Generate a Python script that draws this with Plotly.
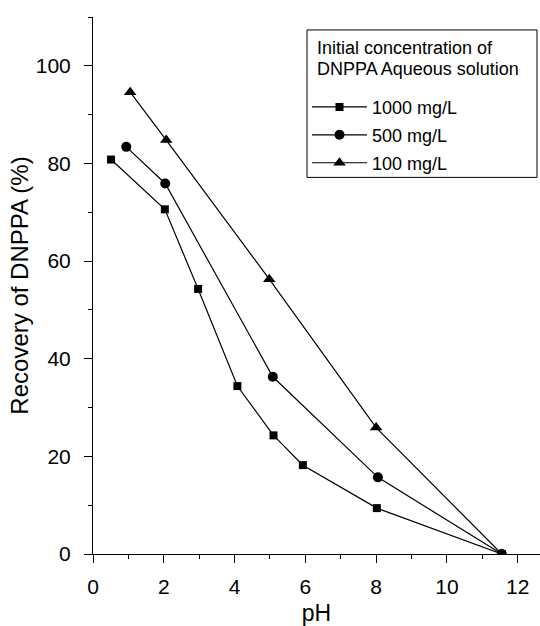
import plotly.graph_objects as go

ph_1000 = [0.51, 2.03, 2.97, 4.08, 5.10, 5.93, 8.02, 11.55]
rec_1000 = [80.8, 70.6, 54.3, 34.4, 24.3, 18.2, 9.4, 0.0]

ph_500 = [0.94, 2.04, 5.08, 8.05, 11.55]
rec_500 = [83.4, 75.9, 36.3, 15.7, 0.0]

ph_100 = [1.05, 2.07, 4.98, 8.00, 11.55]
rec_100 = [94.6, 84.8, 56.3, 25.9, 0.0]

legend_title = ["Initial concentration of", "DNPPA Aqueous solution"]

series = [
    ("1000 mg/L", ph_1000, rec_1000, "square", 8),
    ("500 mg/L", ph_500, rec_500, "circle", 10),
    ("100 mg/L", ph_100, rec_100, "triangle-up", 11),
]

W, H = 540, 626
L, R, T, B = 93, 0, 17, 70
PW, PH = W - L - R, H - T - B


def px(xp):
    return (xp - L) / PW


def py(yp):
    return (H - B - yp) / PH


fig = go.Figure()
for name, xs, ys, sym, sz in series:
    fig.add_trace(go.Scatter(
        x=xs, y=ys, name=name, mode="lines+markers", legendgroup=name,
        line=dict(color="black", width=1.2),
        marker=dict(symbol=sym, size=sz, color="black"),
    ))

font = "Liberation Sans, Arial, sans-serif"

# legend frame and two-line title
fig.add_shape(type="rect", xref="paper", yref="paper",
              x0=px(307), x1=px(537), y0=py(178), y1=py(30),
              line=dict(color="black", width=1), fillcolor="white", layer="above")
for i, line in enumerate(legend_title):
    fig.add_annotation(text=line, xref="paper", yref="paper",
                       x=px(315), y=py(48 + 21 * i), xanchor="left", yanchor="middle",
                       showarrow=False, font=dict(size=18, family=font, color="black"))

fig.update_layout(
    width=W, height=H,
    margin=dict(l=L, r=R, t=T, b=B),
    plot_bgcolor="white", paper_bgcolor="white",
    font=dict(family=font, color="black", size=18),
    showlegend=True,
    legend=dict(
        x=px(307), y=py(89), xanchor="left", yanchor="top",
        borderwidth=0, bgcolor="rgba(0,0,0,0)",
        font=dict(size=18), itemwidth=55,
        traceorder="grouped", tracegroupgap=1.5,
    ),
    xaxis=dict(
        range=[0, 12.63], tickvals=[0, 2, 4, 6, 8, 10, 12],
        showline=True, linecolor="black", linewidth=1,
        ticks="outside", ticklen=8, tickcolor="black", ticklabelstandoff=6,
        minor=dict(dtick=1, tick0=0, ticks="outside", ticklen=4, tickcolor="black"),
        showgrid=False, zeroline=False,
        title=dict(text="pH", font=dict(size=23), standoff=12),
        tickfont=dict(size=21),
    ),
    yaxis=dict(
        range=[0, 110], tickvals=[0, 20, 40, 60, 80, 100],
        showline=True, linecolor="black", linewidth=1,
        ticks="outside", ticklen=8, tickcolor="black", ticklabelstandoff=9,
        minor=dict(dtick=10, tick0=0, ticks="outside", ticklen=4, tickcolor="black"),
        showgrid=False, zeroline=False,
        title=dict(text="Recovery of DNPPA (%)", font=dict(size=24), standoff=0),
        tickfont=dict(size=21),
    ),
)
fig.write_html(
    "out.html",
    config={"displayModeBar": False},
    post_script="document.body.style.margin='0px';document.body.style.overflow='hidden';",
)
